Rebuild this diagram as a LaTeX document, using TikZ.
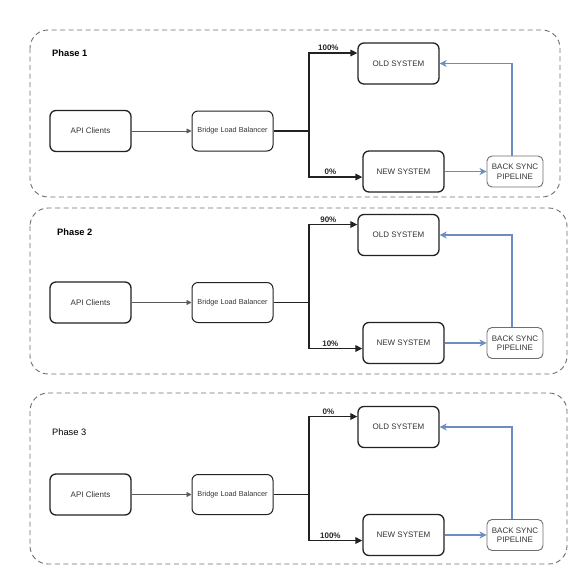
\documentclass[tikz,border=0pt]{standalone}
\usepackage{fontspec}
\setmainfont{Liberation Sans}
\usetikzlibrary{arrows.meta}
\definecolor{syncblue}{HTML}{6C8EBF}
\definecolor{dashgrey}{HTML}{6E6E6E}
\definecolor{boxline}{HTML}{222222}
\tikzset{
  box/.style={draw=boxline,rounded corners=6pt,line width=1.3pt,minimum width=81pt,minimum height=41pt,inner sep=1pt,text=black!80,font=\fontsize{8}{9}\selectfont},
  lbbox/.style={box,line width=1pt,minimum height=40pt,font=\fontsize{7.3}{8}\selectfont},
  syncbox/.style={draw=dashgrey,rounded corners=5pt,line width=0.9pt,minimum width=56pt,minimum height=31pt,inner sep=1pt,align=center,text=black!80,font=\fontsize{8}{9.5}\selectfont},
  phase/.style={draw=dashgrey,dash pattern=on 5pt off 3.5pt,rounded corners=18pt,line width=0.9pt},
  feed/.style={-{Triangle[length=5pt,width=5pt]},line width=0.8pt,draw=black!65},
  route/.style={-{Triangle[length=7pt,width=6.5pt]},line width=1.4pt,draw=boxline},
  sync/.style={-{Stealth[length=7pt,width=7pt,inset=2pt]},draw=syncblue,line width=1.2pt},
  pct/.style={font=\bfseries\fontsize{8}{9}\selectfont,text=black!85,inner sep=1.5pt}
}
\begin{document}
\begin{tikzpicture}[x=1pt,y=-1pt]
\useasboundingbox (0,0) rectangle (587,587);
% one row per phase: number / api y / box top / box bottom / box right / label x / label y / weight / old % / new %
\foreach \n/\ya/\yt/\yb/\xr/\xl/\yl/\f/\pa/\pb in {
    1/131/30/197/560/52/53/\bfseries/100/0,
    2/302.5/208/374/567/57/232/\bfseries/90/10,
    3/494.5/393/564/567/52/432/\mdseries/0/100}{
  \draw[phase] (30,\yt) rectangle (\xr,\yb);
  \node[anchor=west,inner sep=0pt,font=\f\fontsize{9.3}{11}\selectfont] (label\n) at (\xl,\yl) {Phase \n};
  \node[box] (api\n) at (90.5,\ya) {API Clients};
  \node[lbbox] (lb\n) at (232.5,\ya) {Bridge Load Balancer};
  \node[box] (old\n) at (398.5,\ya-67.5) {OLD SYSTEM};
  \node[box] (new\n) at (403.5,\ya+40.5) {NEW SYSTEM};
  \node[syncbox] (sync\n) at (515,\ya+40.5) {BACK SYNC\\PIPELINE};
  \coordinate (split\n) at (309,\ya);
  \draw[feed] (api\n) -- (lb\n);
  \draw[line width=1.4pt,draw=boxline] (lb\n) -- (split\n);
  \draw[route] (split\n) |- ([yshift=10.5pt]old\n.west) node[pct,pos=0.7,above] {\pa\%};
  \draw[route] (split\n) |- ([yshift=-5.5pt]new\n.west) node[pct,pos=0.7,above] {\pb\%};
  \draw[sync] (new\n) -- (sync\n);
  \draw[sync] ([xshift=-3pt]sync\n.north) |- (old\n.east);
}
\end{tikzpicture}
\end{document}
